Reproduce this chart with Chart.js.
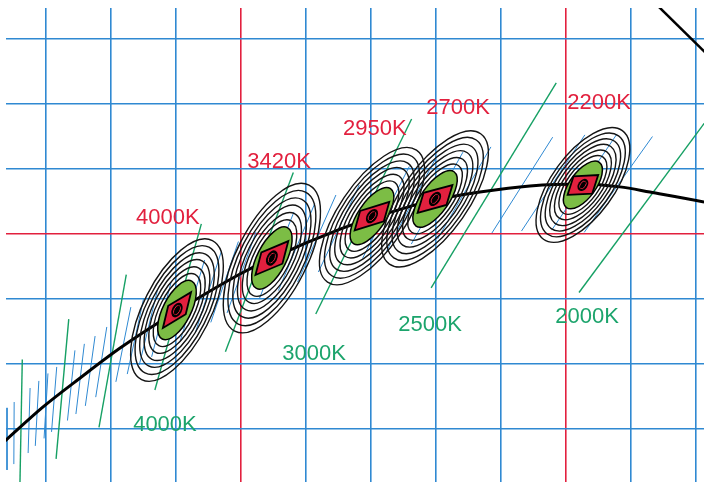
<!DOCTYPE html>
<html>
<head>
<meta charset="utf-8">
<script src="https://cdn.jsdelivr.net/npm/chart.js@4.4.1/dist/chart.umd.min.js"></script>
<style>
  html, body { margin: 0; padding: 0; background: #fff; }
  canvas { display: block; }
</style>
</head>
<body>
<canvas id="cctChart" width="704" height="482"></canvas>
<script>
// CIE xy chromaticity detail: Planckian locus, isotherms, MacAdam ellipses

// grid lines (CIE x / y)
const gridX = [0.34, 0.36, 0.38, 0.40, 0.42, 0.44, 0.46, 0.48, 0.50, 0.52, 0.54];
const gridY = [0.34, 0.36, 0.38, 0.40, 0.42, 0.44, 0.46];
const redGrid = [0.40, 0.50];

// Planckian locus
const locusX = [0.3222, 0.3277, 0.3391, 0.3505, 0.3628, 0.3803, 0.3997, 0.4095, 0.4305, 0.4403, 0.4597, 0.4735, 0.4889, 0.5052, 0.5166, 0.5258, 0.5425, 0.5474];
const locusY = [0.3317, 0.3366, 0.3468, 0.3557, 0.3649, 0.3763, 0.3877, 0.3926, 0.4015, 0.4049, 0.4105, 0.4129, 0.4148, 0.4154, 0.4145, 0.4129, 0.4098, 0.4086];

// spectral locus piece (top right)
const spectralX = [0.5258, 0.5474];
const spectralY = [0.4726, 0.4514];

// 100K isotherms (blue): upper end / lower end
const blueX1 = [0.3280, 0.3302, 0.3351, 0.3378, 0.3406, 0.3433, 0.3489, 0.3518, 0.3551, 0.3587, 0.3661, 0.3700, 0.3743, 0.3785, 0.3888, 0.3940, 0.3992, 0.4046, 0.4163, 0.4227, 0.4292, 0.4364, 0.4518, 0.4598, 0.4683, 0.4769, 0.4959, 0.5058, 0.5157, 0.5266];
const blueY1 = [0.3465, 0.3483, 0.3526, 0.3548, 0.3571, 0.3591, 0.3642, 0.3662, 0.3686, 0.3714, 0.3775, 0.3800, 0.3828, 0.3852, 0.3920, 0.3948, 0.3977, 0.4006, 0.4068, 0.4094, 0.4120, 0.4151, 0.4208, 0.4231, 0.4252, 0.4268, 0.4298, 0.4305, 0.4308, 0.4300];
const blueX2 = [0.3280, 0.3301, 0.3345, 0.3367, 0.3394, 0.3417, 0.3466, 0.3492, 0.3521, 0.3553, 0.3615, 0.3650, 0.3687, 0.3725, 0.3813, 0.3860, 0.3907, 0.3957, 0.4056, 0.4115, 0.4174, 0.4238, 0.4374, 0.4448, 0.4524, 0.4605, 0.4772, 0.4863, 0.4956, 0.5056];
const blueY2 = [0.3274, 0.3292, 0.3326, 0.3348, 0.3371, 0.3391, 0.3426, 0.3446, 0.3471, 0.3498, 0.3545, 0.3569, 0.3597, 0.3622, 0.3671, 0.3698, 0.3728, 0.3757, 0.3800, 0.3826, 0.3852, 0.3883, 0.3925, 0.3948, 0.3969, 0.3985, 0.4003, 0.4009, 0.4012, 0.4005];

// 500K isotherms (green), 5500K ... 2000K
const greenX1 = [0.3327, 0.3470, 0.3647, 0.3878, 0.4161, 0.4525, 0.4970, 0.5518];
const greenY1 = [0.3614, 0.3738, 0.3875, 0.4031, 0.4189, 0.4354, 0.4465, 0.4466];
const greenX2 = [0.3319, 0.3431, 0.3563, 0.3735, 0.3952, 0.4230, 0.4585, 0.5040];
const greenY2 = [0.3189, 0.3308, 0.3405, 0.3520, 0.3638, 0.3754, 0.3834, 0.3820];

// MacAdam ellipses: centre, semi axes (xy units), tilt (deg)
const ellX = [0.3803, 0.4095, 0.4403, 0.4597, 0.5052];
const ellY = [0.3766, 0.3926, 0.4055, 0.4108, 0.4151];
const ellA = [0.0100, 0.0105, 0.0102, 0.0102, 0.0086];
const ellB = [0.0043, 0.0045, 0.0043, 0.0043, 0.0040];
const ellAngle = [63, 63, 56, 55, 54];
const ringScale = [1.23, 1.46, 1.70, 1.93, 2.17, 2.40];

// small quadrangles in the middle of each ellipse
const quadAlong = [0.0041, 0.0045, 0.0047, 0.0046, 0.0038];
const quadAcross = [0.0035, 0.0036, 0.0031, 0.0032, 0.0030];
const locusSlope = [0.60, 0.42, 0.31, 0.27, 0.05];
const quadLean = [0.24, 0.26, 0.28, 0.30, 0.32];

// labels
const redLabels = ['4000K', '3420K', '2950K', '2700K', '2200K'];
const redLabelX = [0.3775, 0.4117, 0.4412, 0.4668, 0.5102];
const redLabelY = [0.4049, 0.4222, 0.4323, 0.4388, 0.4403];
const greenLabels = ['4000K', '3000K', '2500K', '2000K'];
const greenLabelX = [0.3766, 0.4225, 0.4582, 0.5065];
const greenLabelY = [0.3412, 0.3631, 0.3720, 0.3745];

const BLUE = '#2f89d2';
const RED = '#e2203e';
const GREEN = '#16a064';

const datasets = [];
// locus first -> drawn on top of the isotherms
datasets.push({
    data: locusX.map((x, i) => ({ x: x, y: locusY[i] })),
    borderColor: '#000', borderWidth: 3, pointRadius: 0,
    cubicInterpolationMode: 'monotone'
});
datasets.push({
    data: spectralX.map((x, i) => ({ x: x, y: spectralY[i] })),
    borderColor: '#000', borderWidth: 2.5, pointRadius: 0
});
greenX1.forEach((x, i) => {
    datasets.push({
        data: [{ x: greenX1[i], y: greenY1[i] }, { x: greenX2[i], y: greenY2[i] }],
        borderColor: GREEN, borderWidth: 1.4, pointRadius: 0
    });
});
blueX1.forEach((x, i) => {
    datasets.push({
        data: [{ x: blueX1[i], y: blueY1[i] }, { x: blueX2[i], y: blueY2[i] }],
        borderColor: BLUE, borderWidth: 1, pointRadius: 0
    });
});

// ellipses, quadrangles and labels
const ellipsePlugin = {
    id: 'macadam',
    afterDatasetsDraw(chart) {
        const { ctx, chartArea, scales: { x, y } } = chart;
        const unit = x.getPixelForValue(1) - x.getPixelForValue(0);
        ctx.save();
        ctx.beginPath();
        ctx.rect(chartArea.left, chartArea.top, chartArea.right - chartArea.left, chartArea.bottom - chartArea.top);
        ctx.clip();

        ellX.forEach((ex, i) => {
            const cx = x.getPixelForValue(ex);
            const cy = y.getPixelForValue(ellY[i]);
            const a = ellA[i] * unit;
            const b = ellB[i] * unit;
            const rot = -ellAngle[i] * Math.PI / 180;

            // outer steps
            ctx.strokeStyle = '#141414';
            ctx.lineWidth = 1.4;
            ringScale.forEach(s => {
                ctx.beginPath();
                ctx.ellipse(cx, cy, a * s, b * s, rot, 0, Math.PI * 2);
                ctx.stroke();
            });

            // green ellipse
            ctx.beginPath();
            ctx.ellipse(cx, cy, a, b, rot, 0, Math.PI * 2);
            ctx.fillStyle = '#7cbd45';
            ctx.fill();
            ctx.lineWidth = 1.5;
            ctx.strokeStyle = '#000';
            ctx.stroke();

            // quadrangle
            const un = Math.sqrt(1 + locusSlope[i] * locusSlope[i]);
            const ux = quadAlong[i] / un, uy = quadAlong[i] * locusSlope[i] / un;
            const vn = Math.sqrt(1 + quadLean[i] * quadLean[i]);
            const vx = quadAcross[i] * quadLean[i] / vn, vy = quadAcross[i] / vn;
            const corners = [[-1, -1], [1, -1], [1, 1], [-1, 1]];
            ctx.beginPath();
            corners.forEach((c, j) => {
                const px = x.getPixelForValue(ex + c[0] * ux + c[1] * vx);
                const py = y.getPixelForValue(ellY[i] + c[0] * uy + c[1] * vy);
                if (j === 0) ctx.moveTo(px, py); else ctx.lineTo(px, py);
            });
            ctx.closePath();
            ctx.fillStyle = RED;
            ctx.fill();
            ctx.lineWidth = 1.8;
            ctx.strokeStyle = '#000';
            ctx.stroke();

            // black core with a thin red mark
            ctx.beginPath();
            ctx.ellipse(cx, cy, a * 0.24, b * 0.36, rot, 0, Math.PI * 2);
            ctx.fillStyle = '#000';
            ctx.fill();
            ctx.beginPath();
            ctx.ellipse(cx, cy, a * 0.15, b * 0.2, rot, 0, Math.PI * 2);
            ctx.strokeStyle = RED;
            ctx.lineWidth = 1;
            ctx.stroke();
            ctx.beginPath();
            ctx.ellipse(cx, cy, a * 0.15, b * 0.1, rot, 0, Math.PI * 2);
            ctx.fillStyle = '#000';
            ctx.fill();
        });
        ctx.restore();

        ctx.save();
        ctx.font = '22px "Liberation Sans", Arial, sans-serif';
        ctx.textAlign = 'center';
        ctx.textBaseline = 'middle';
        ctx.fillStyle = RED;
        redLabels.forEach((t, i) => {
            ctx.fillText(t, x.getPixelForValue(redLabelX[i]), y.getPixelForValue(redLabelY[i]));
        });
        ctx.fillStyle = '#1ca46c';
        greenLabels.forEach((t, i) => {
            ctx.fillText(t, x.getPixelForValue(greenLabelX[i]), y.getPixelForValue(greenLabelY[i]));
        });
        ctx.restore();
    }
};

const gridColor = (c) => redGrid.includes(c.tick && c.tick.value) ? RED : BLUE;

const chartEl = document.getElementById('cctChart');
const cctChart = new Chart(chartEl, {
    type: 'line',
    data: { datasets: datasets },
    options: {
        responsive: false,
        animation: false,
        devicePixelRatio: 1,
        layout: { padding: { left: 6, top: 8, right: 0, bottom: 0 } },
        scales: {
            x: {
                type: 'linear',
                min: 0.32769, max: 0.54246,
                afterBuildTicks: (s) => { s.ticks = gridX.map(v => ({ value: v })); },
                ticks: { display: false },
                border: { display: false },
                grid: { color: gridColor, lineWidth: 1.6, drawTicks: false }
            },
            y: {
                type: 'linear',
                min: 0.32369, max: 0.46954,
                afterBuildTicks: (s) => { s.ticks = gridY.map(v => ({ value: v })); },
                ticks: { display: false },
                border: { display: false },
                grid: { color: gridColor, lineWidth: 1.6, drawTicks: false }
            }
        },
        plugins: {
            legend: { display: false },
            tooltip: { enabled: false }
        }
    },
    plugins: [ellipsePlugin]
});
</script>
</body>
</html>
